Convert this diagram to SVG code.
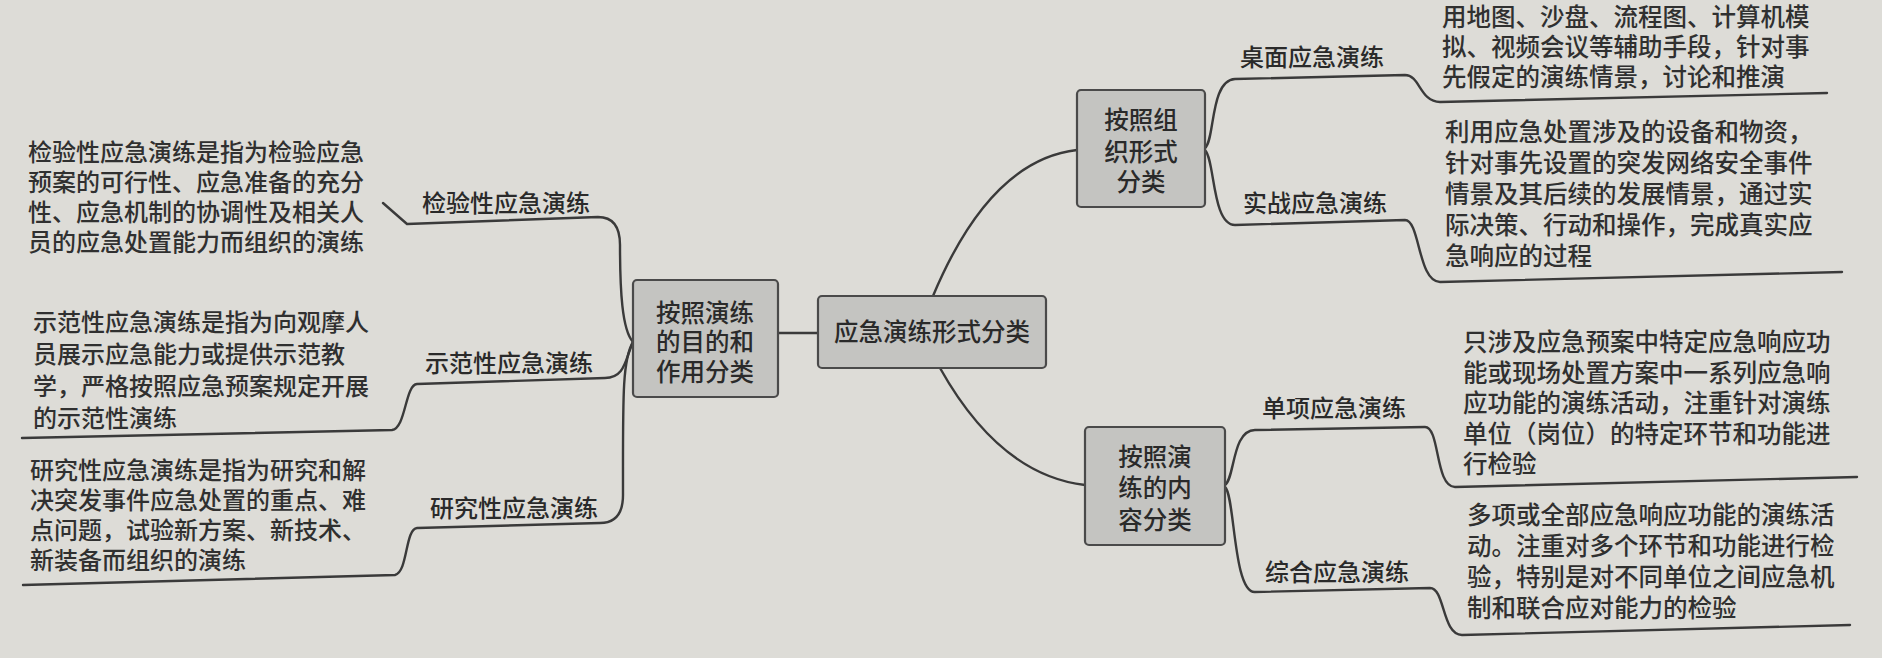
<svg xmlns="http://www.w3.org/2000/svg" width="1882" height="658" viewBox="0 0 1882 658">
<style>
.bg{fill:#dddcd7}
.box{fill:#c4c4c1;stroke:#4a4a4a;stroke-width:2.2}
.t{font-family:"Noto Sans CJK SC","Noto Sans",sans-serif;fill:#2a2a2a;font-size:24px;font-weight:500}
.bt{font-family:"Noto Sans CJK SC","Noto Sans",sans-serif;fill:#2a2a2a;font-size:24.5px;font-weight:500;text-anchor:middle}
.d{font-family:"Noto Sans CJK SC","Noto Sans",sans-serif;fill:#303030;font-size:24px;font-weight:500}
.dr{font-family:"Noto Sans CJK SC","Noto Sans",sans-serif;fill:#303030;font-size:24.5px;font-weight:500}
.c{fill:none;stroke:#3a3a3a;stroke-width:2.4;stroke-linecap:round;stroke-linejoin:round}
</style>
<rect class="bg" x="0" y="0" width="1882" height="658"/>
<g id="connectors">
<path class="c" d="M778 333 L818 333"/>
<path class="c" d="M933 296 Q 990 160 1077 150"/>
<path class="c" d="M940 368 Q 1000 475 1085 485"/>
<path class="c" d="M633 342 C 622 330, 620 290, 620 245 Q 620 217 598 217 L 407 224 L 383 203"/>
<path class="c" d="M633 342 C 625 360, 625 378, 605 378 L 417 384 C 405 385, 406 428, 392 430 L 22 438"/>
<path class="c" d="M633 342 C 622 360, 623 400, 623 495 Q 623 523 600 523 L 417 528 C 405 529, 408 572, 395 575 L 23 585"/>
<path class="c" d="M1205 148 C 1215 140, 1210 80, 1235 79 L 1405 75 C 1420 75, 1420 102, 1440 102 L 1827 93"/>
<path class="c" d="M1205 150 C 1215 160, 1212 225, 1235 225 L 1405 220 C 1420 220, 1418 282, 1440 282 L 1842 272"/>
<path class="c" d="M1225 485 C 1235 478, 1232 430, 1255 430 L 1425 427 C 1440 427, 1435 487, 1455 487 L 1857 477"/>
<path class="c" d="M1225 487 C 1235 495, 1233 593, 1255 592 L 1430 588 C 1445 588, 1442 635, 1462 635 L 1850 625"/>
</g>
<g id="root">
<rect class="box" x="818" y="296" width="228" height="72" rx="4"/>
<text class="bt" x="932" y="341">应急演练形式分类</text>
</g>
<g id="purpose">
<rect class="box" x="633" y="280" width="145" height="117" rx="4"/>
<text class="bt"><tspan x="705" y="322">按照演练</tspan><tspan x="705" y="351">的目的和</tspan><tspan x="705" y="381">作用分类</tspan></text>
</g>
<g id="org">
<rect class="box" x="1077" y="90" width="128" height="117" rx="4"/>
<text class="bt"><tspan x="1141" y="129">按照组</tspan><tspan x="1141" y="161">织形式</tspan><tspan x="1141" y="191">分类</tspan></text>
</g>
<g id="content">
<rect class="box" x="1085" y="427" width="140" height="118" rx="4"/>
<text class="bt"><tspan x="1155" y="466">按照演</tspan><tspan x="1155" y="497">练的内</tspan><tspan x="1155" y="529">容分类</tspan></text>
</g>
<g id="jianyan">
<text class="t" x="422" y="212">检验性应急演练</text>
<text class="d"><tspan x="28" y="161">检验性应急演练是指为检验应急</tspan><tspan x="28" y="191">预案的可行性、应急准备的充分</tspan><tspan x="28" y="221">性、应急机制的协调性及相关人</tspan><tspan x="28" y="251">员的应急处置能力而组织的演练</tspan></text>
</g>
<g id="shifan">
<text class="t" x="425" y="372">示范性应急演练</text>
<text class="d"><tspan x="33" y="331">示范性应急演练是指为向观摩人</tspan><tspan x="33" y="363">员展示应急能力或提供示范教</tspan><tspan x="33" y="395">学，严格按照应急预案规定开展</tspan><tspan x="33" y="427">的示范性演练</tspan></text>
</g>
<g id="yanjiu">
<text class="t" x="430" y="517">研究性应急演练</text>
<text class="d"><tspan x="30" y="479">研究性应急演练是指为研究和解</tspan><tspan x="30" y="509">决突发事件应急处置的重点、难</tspan><tspan x="30" y="539">点问题，试验新方案、新技术、</tspan><tspan x="30" y="569">新装备而组织的演练</tspan></text>
</g>
<g id="zhuomian">
<text class="t" x="1240" y="66">桌面应急演练</text>
<text class="dr"><tspan x="1442" y="26">用地图、沙盘、流程图、计算机模</tspan><tspan x="1442" y="56">拟、视频会议等辅助手段，针对事</tspan><tspan x="1442" y="86">先假定的演练情景，讨论和推演</tspan></text>
</g>
<g id="shizhan">
<text class="t" x="1243" y="212">实战应急演练</text>
<text class="dr"><tspan x="1445" y="141">利用应急处置涉及的设备和物资，</tspan><tspan x="1445" y="172">针对事先设置的突发网络安全事件</tspan><tspan x="1445" y="203">情景及其后续的发展情景，通过实</tspan><tspan x="1445" y="234">际决策、行动和操作，完成真实应</tspan><tspan x="1445" y="265">急响应的过程</tspan></text>
</g>
<g id="danxiang">
<text class="t" x="1262" y="417">单项应急演练</text>
<text class="dr"><tspan x="1463" y="351">只涉及应急预案中特定应急响应功</tspan><tspan x="1463" y="382">能或现场处置方案中一系列应急响</tspan><tspan x="1463" y="412">应功能的演练活动，注重针对演练</tspan><tspan x="1463" y="443">单位（岗位）的特定环节和功能进</tspan><tspan x="1463" y="473">行检验</tspan></text>
</g>
<g id="zonghe">
<text class="t" x="1265" y="581">综合应急演练</text>
<text class="dr"><tspan x="1467" y="524">多项或全部应急响应功能的演练活</tspan><tspan x="1467" y="555">动。注重对多个环节和功能进行检</tspan><tspan x="1467" y="586">验，特别是对不同单位之间应急机</tspan><tspan x="1467" y="617">制和联合应对能力的检验</tspan></text>
</g>
</svg>
